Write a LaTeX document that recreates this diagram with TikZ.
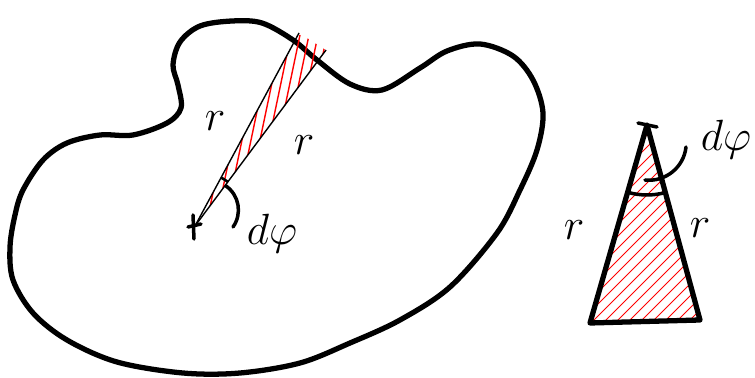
\documentclass[tikz,border=0pt]{standalone}
\usetikzlibrary{angles}
\begin{document}
\begin{tikzpicture}[x=0.02cm, y=-0.02cm,
	outline/.style={line width=3pt, line cap=round, line join=round},
	hatch/.style={red, line width=0.6pt},
	lbl/.style={font=\fontsize{24}{28}\selectfont},
	biglbl/.style={font=\fontsize{30}{34}\selectfont}]
    \useasboundingbox (0,0) rectangle (755,378);
    \coordinate (O) at (195,226);
    \coordinate (A) at (299,33);
    \coordinate (B) at (326,50);
    \coordinate (T) at (647,125);
    \coordinate (P) at (590,323);
    \coordinate (Q) at (700,320);
	\draw [outline] plot [smooth cycle, tension=0.55] coordinates {
		(232,21) (262,23) (293,40) (317,60) (350,84) (382,90) (420,68) (447,51)
		(480,44) (513,56) (533,80) (543,113) (537,150) (520,190) (497,233)
		(450,287) (400,320) (350,343) (300,363) (240,373) (183,373) (117,362)
		(67,340) (33,313) (13,280) (10,247) (15,215) (23,190) (43,160) (67,143)
		(100,135) (133,135) (167,123) (181,108) (178,85) (173,65) (180,42) (200,26)};
	\begin{scope}
		\clip (O) -- (A) -- (B) -- cycle;
		\foreach \x in {120,129,...,320}
			\draw [hatch, line width=0.8pt] (\x,250) -- +(45,-215);
	\end{scope}
	\draw [line width=0.8pt] (O) -- (A);
	\draw [line width=0.8pt] (O) -- (B);
	\pic [draw, line width=1.5pt, angle radius=1.1cm] {angle = B--O--A};
	\draw [line width=2pt, line cap=round] (O) ++(-2,-11) -- ++(1,24);
	\draw [line width=2pt, line cap=round] (O) ++(-7,1) -- ++(13,-3);
	\coordinate (La) at (226,186);
	\coordinate (Lb) at (233,227);
	\draw [line width=2pt, line cap=round] (La) to [bend left=45] (Lb);
	\node [lbl] (r1) at (215,121) {$r$};
	\node [lbl] (r2) at (304,145) {$r$};
	\node [biglbl] (dphi1) at (272,234) {$d\varphi$};
	\begin{scope}
		\clip (T) -- (P) -- (Q) -- cycle;
		\foreach \x in {370,382,...,710}
			\draw [hatch] (\x,340) -- +(240,-240);
	\end{scope}
	\draw [outline] (T) -- (P) -- (Q) -- cycle;
	\pic [draw, line width=2pt, angle radius=1.4cm] {angle = P--T--Q};
	\draw [line width=2pt, line cap=round] (638,123) -- (657,127);
	\coordinate (Ma) at (645,180);
	\coordinate (Mb) at (686,147);
	\draw [line width=2pt, line cap=round] (Ma) to [bend right=45] (Mb);
	\node [lbl] (r3) at (574,230) {$r$};
	\node [lbl] (r4) at (700,228) {$r$};
	\node [biglbl] (dphi2) at (726,140) {$d\varphi$};
\end{tikzpicture}
\end{document}
